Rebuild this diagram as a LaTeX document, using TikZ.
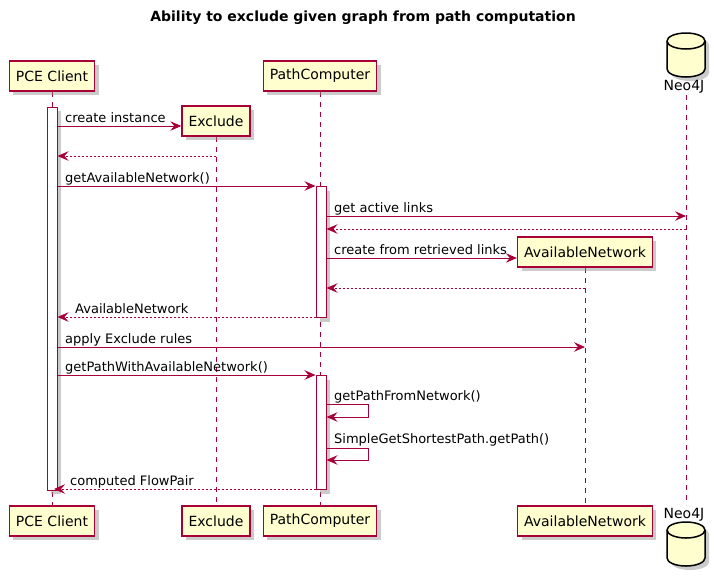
\documentclass[tikz,border=0pt]{standalone}
\usepackage{fontspec}
\setmainfont{DejaVu Sans}
\usetikzlibrary{arrows.meta,shadows}
\definecolor{pu}{RGB}{168,0,54}
\definecolor{pubg}{RGB}{254,254,206}
\pgfdeclarelayer{bg}
\pgfdeclarelayer{back}
\pgfsetlayers{back,bg,main}
\tikzset{
  shad/.style={drop shadow={shadow xshift=4pt,shadow yshift=-4pt,fill=black!45,opacity=0.45}},
  part/.style={draw=pu,line width=1.5pt,fill=pubg,font=\fontsize{14}{16}\selectfont,
    minimum height=30pt,inner xsep=6.5pt,inner ysep=0pt,shad},
  life/.style={draw=pu,line width=1pt,dash pattern=on 5pt off 5pt},
  actbar/.style={draw=pu,fill=white,line width=1pt,minimum width=10pt,inner sep=0pt,anchor=north,shad},
  msg/.style={draw=pu,line width=1pt,-{Stealth[length=11pt,width=9.5pt,inset=4pt]}},
  ret/.style={msg,dash pattern=on 2pt off 2pt},
  lbl/.style={font=\fontsize{13}{15}\selectfont,anchor=base west,inner sep=0pt},
  dblbl/.style={font=\fontsize{14}{16}\selectfont,inner sep=0pt}
}
\newcommand\mydbcyl[2]{%
  \fill[black!45,opacity=0.45] (#1-15,#2+12) -- (#1-15,#2+40) arc[start angle=180,end angle=360,x radius=19pt,y radius=8pt] -- (#1+23,#2+12) arc[start angle=0,end angle=180,x radius=19pt,y radius=8pt] -- cycle;
  \filldraw[fill=pubg,draw=black,line width=1.5pt] (#1-19,#2+8) -- (#1-19,#2+36) arc[start angle=180,end angle=360,x radius=19pt,y radius=8pt] -- (#1+19,#2+8) arc[start angle=0,end angle=180,x radius=19pt,y radius=8pt] -- cycle;
  \draw[black,line width=1.5pt] (#1-19,#2+8) arc[start angle=180,end angle=360,x radius=19pt,y radius=8pt];
}
\begin{document}
\begin{tikzpicture}[x=1pt,y=-1pt]
\begin{pgfonlayer}{back}
\fill[white] (0,0) rectangle (714,579);
\end{pgfonlayer}
\useasboundingbox (0,0) rectangle (714,579);
\node[font=\bfseries\fontsize{14}{16}\selectfont] (title) at (363,18) {Ability to exclude given graph from path computation};
% participants
\node[part] (pce) at (52,76) {PCE Client};
\node[part] (pceb) at (52,521) {PCE Client};
\node[part] (exc) at (216,121) {Exclude};
\node[part] (excb) at (216,521) {Exclude};
\node[part] (pc) at (320,76) {PathComputer};
\node[part] (pcb) at (320,521) {PathComputer};
\node[part] (an) at (585,252) {AvailableNetwork};
\node[part] (anb) at (585,521) {AvailableNetwork};
\mydbcyl{686}{33}
\mydbcyl{686}{522}
\node[dblbl] (neo) at (684,87) {Neo4J};
\node[dblbl] (neob) at (684,515) {Neo4J};
\coordinate (neoT) at (686,95);
\coordinate (neoB) at (686,505);
\coordinate (pceend) at (54,0);
% lifelines
\begin{pgfonlayer}{bg}
\draw[life] (pce.south) -- (pceb.north);
\draw[life] (exc.south) -- (excb.north);
\draw[life] (pc.south) -- (pcb.north);
\draw[life] (an.south) -- (anb.north);
\draw[life] (neoT) -- (neoB);
\end{pgfonlayer}
% activation bars
\node[actbar,minimum height=383pt] (pa) at (52,106.5) {};
\node[actbar,minimum height=131pt] (ca) at (321,186) {};
\node[actbar,minimum height=114pt] (cb) at (321,375) {};
% messages
\draw[msg] (pa.east |- 0,126) -- (exc.west |- 0,126);
\node[lbl] (m1) at (65,122) {create instance};
\draw[ret] (exc.center |- 0,156) -- (pa.east |- 0,156);
\draw[msg] (pa.east |- 0,186) -- (ca.west |- 0,186);
\node[lbl] (m3) at (65,182) {getAvailableNetwork()};
\draw[msg] (ca.east |- 0,216) -- (neoT |- 0,216);
\node[lbl] (m4) at (334,212) {get active links};
\draw[ret] (neoT |- 0,229) -- (ca.east |- 0,229);
\draw[msg] (ca.east |- 0,258) -- (an.west |- 0,258);
\node[lbl] (m6) at (334,254) {create from retrieved links};
\draw[ret] (an.center |- 0,288) -- (ca.east |- 0,288);
\draw[ret] (ca.west |- 0,317) -- (pa.east |- 0,317);
\node[lbl] (m8) at (75,313) {AvailableNetwork};
\draw[msg] (pa.east |- 0,347) -- (an.center |- 0,347);
\node[lbl] (m9) at (65,343) {apply Exclude rules};
\draw[msg] (pa.east |- 0,375) -- (cb.west |- 0,375);
\node[lbl] (m10) at (65,371) {getPathWithAvailableNetwork()};
\draw[msg] (cb.east |- 0,404) -- ++(42,0) -- ++(0,13) -- (cb.east |- 0,417);
\node[lbl] (m11) at (334,400) {getPathFromNetwork()};
\draw[msg] (cb.east |- 0,448) -- ++(42,0) -- ++(0,12) -- (cb.east |- 0,460);
\node[lbl] (m12) at (334,443) {SimpleGetShortestPath.getPath()};
\draw[ret] (cb.west |- 0,489) -- (pceend |- 0,489);
\node[lbl] (m13) at (70,485) {computed FlowPair};
\end{tikzpicture}
\end{document}
